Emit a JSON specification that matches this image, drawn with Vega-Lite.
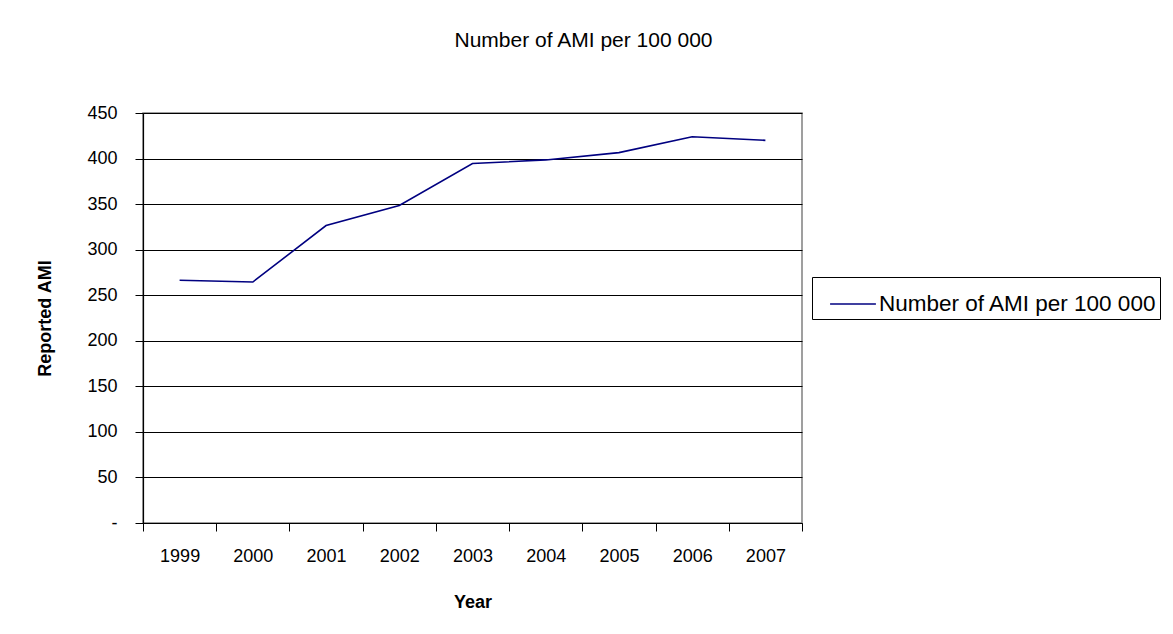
{
  "$schema": "https://vega.github.io/schema/vega-lite/v6.json",
  "width": 659,
  "height": 410,
  "autosize": "none",
  "padding": {"left": 143, "top": 113, "right": 371, "bottom": 111},
  "background": "white",
  "title": {
    "text": "Number of AMI per 100 000",
    "anchor": "middle",
    "frame": "group",
    "dx": 111,
    "offset": 53,
    "font": "Liberation Sans",
    "fontSize": 21,
    "fontWeight": "normal",
    "color": "black"
  },
  "data": {
    "values": [
      {"Year": "1999", "AMI": 266.5, "Series": "Number of AMI per 100 000"},
      {"Year": "2000", "AMI": 264.5, "Series": "Number of AMI per 100 000"},
      {"Year": "2001", "AMI": 326.5, "Series": "Number of AMI per 100 000"},
      {"Year": "2002", "AMI": 348.5, "Series": "Number of AMI per 100 000"},
      {"Year": "2003", "AMI": 394.5, "Series": "Number of AMI per 100 000"},
      {"Year": "2004", "AMI": 398.5, "Series": "Number of AMI per 100 000"},
      {"Year": "2005", "AMI": 406.5, "Series": "Number of AMI per 100 000"},
      {"Year": "2006", "AMI": 424, "Series": "Number of AMI per 100 000"},
      {"Year": "2007", "AMI": 420, "Series": "Number of AMI per 100 000"}
    ]
  },
  "mark": {"type": "line", "strokeWidth": 1.6},
  "encoding": {
    "x": {
      "field": "Year",
      "type": "ordinal",
      "bandPosition": 0.5,
      "scale": {"type": "band", "paddingInner": 0, "paddingOuter": 0},
      "axis": {
        "title": "Year",
        "titleFont": "Liberation Sans",
        "titleFontSize": 18,
        "titleFontWeight": "bold",
        "titleColor": "black",
        "titlePadding": 28,
        "labelFont": "Liberation Sans",
        "labelFontSize": 18,
        "labelColor": "black",
        "labelAngle": 0,
        "labelPadding": 16,
        "tickBand": "extent",
        "tickSize": 8,
        "tickColor": "black",
        "domainColor": "black",
        "domainWidth": 1.2,
        "grid": false
      }
    },
    "y": {
      "field": "AMI",
      "type": "quantitative",
      "scale": {"domain": [0, 450], "nice": false},
      "axis": {
        "title": "Reported AMI",
        "titleFont": "Liberation Sans",
        "titleFontSize": 18,
        "titleFontWeight": "bold",
        "titleColor": "black",
        "titlePadding": 32,
        "labelFont": "Liberation Sans",
        "labelFontSize": 18,
        "labelColor": "black",
        "labelPadding": 18,
        "labelExpr": "datum.value == 0 ? '-' : datum.label",
        "values": [0, 50, 100, 150, 200, 250, 300, 350, 400, 450],
        "tickSize": 8,
        "tickColor": "black",
        "domainColor": "black",
        "domainWidth": 1.2,
        "grid": true,
        "gridColor": "black",
        "gridWidth": 1
      }
    },
    "color": {
      "field": "Series",
      "type": "nominal",
      "scale": {"range": ["#000080"]},
      "legend": {
        "title": null,
        "orient": "none",
        "legendX": 669,
        "legendY": 164,
        "symbolType": "stroke",
        "symbolSize": 2100,
        "symbolStrokeWidth": 1.6,
        "symbolOffset": 14,
        "labelFont": "Liberation Sans",
        "labelFontSize": 22.5,
        "labelColor": "black",
        "labelLimit": 0,
        "labelOffset": 2,
        "strokeColor": "black",
        "padding": 3,
        "fillColor": "white"
      }
    }
  },
  "config": {
    "view": {"stroke": "#808080", "strokeWidth": 1.5}
  }
}
